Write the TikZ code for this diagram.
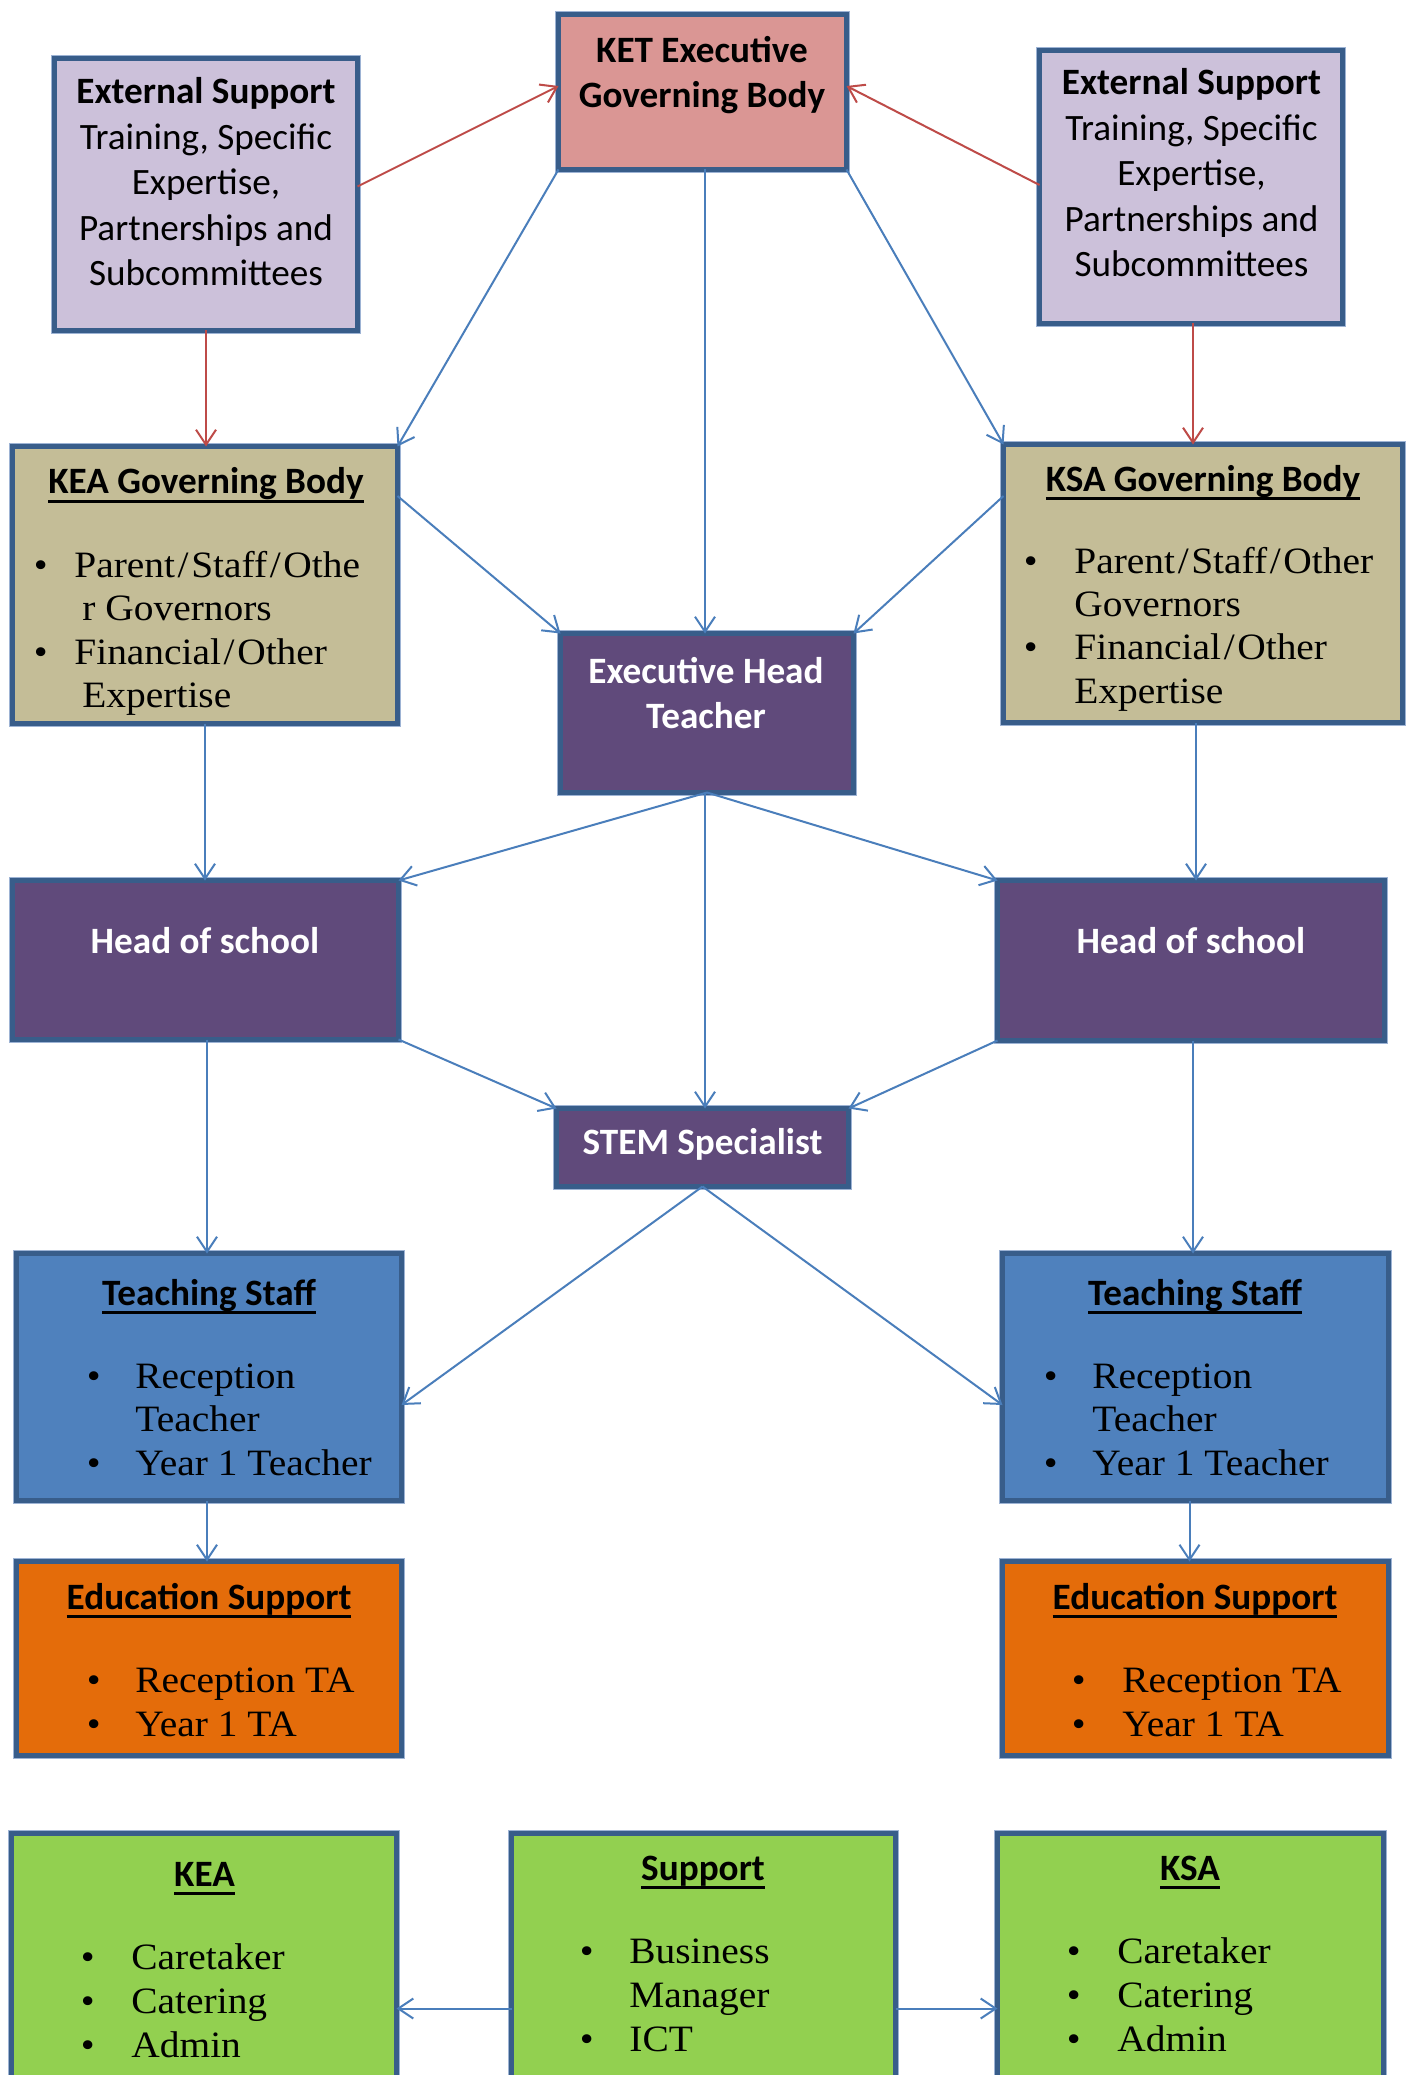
\documentclass[tikz,border=0pt]{standalone}
\usepackage{fontspec}
\usetikzlibrary{arrows.meta,calc}
\newfontfamily\calib{Carlito}
\newfontfamily\camb{Liberation Serif}[FakeStretch=1.06]

\definecolor{bordc}{HTML}{385D8A}
\definecolor{haloc}{HTML}{9DB3D4}
\definecolor{ketc}{HTML}{DA9694}
\definecolor{extc}{HTML}{CCC1DA}
\definecolor{govc}{HTML}{C4BD97}
\definecolor{purc}{HTML}{604A7B}
\definecolor{bluec}{HTML}{4F81BD}
\definecolor{orc}{HTML}{E46C0A}
\definecolor{grc}{HTML}{92D050}
\definecolor{linkb}{HTML}{4A7EBB}
\definecolor{linkr}{HTML}{BE4B48}

% underline at a fixed depth below the baseline
\newcommand\ulin[1]{\sbox0{#1}\rlap{\rule[-4.3pt]{\wd0}{1.4pt}}\usebox0}
% bullet hanging to the left of the item text
\newcommand\bul[1]{\llap{•\hspace{#1}}}
% slightly wider slash
\newcommand\sla{\kern1.3pt/\kern1.3pt}

\tikzset{
  box/.style={rectangle, draw=bordc, line width=2.5pt, inner sep=0pt, outer sep=0pt,
    preaction={draw=haloc, line width=3.4pt}},
  tit/.style={font=\calib\bfseries\fontsize{18.6}{22.7}\selectfont, anchor=base, inner sep=0pt},
  wtit/.style={tit, text=white},
  ctx/.style={font=\calib\fontsize{18.6}{22.7}\selectfont, anchor=base, inner sep=0pt},
  btx/.style={font=\camb\fontsize{18.6}{21.8}\selectfont, anchor=base west, inner sep=0pt},
  link/.style={draw=linkb, line width=1pt, -{Straight Barb[length=7.5pt,width=10pt]}},
  rlink/.style={link, draw=linkr},
}

\begin{document}
\begin{tikzpicture}[x=0.5pt,y=-0.5pt]
\useasboundingbox (0,0) rectangle (1413,2075);
\clip (0,0) rectangle (1413,2075);
\fill[white] (0,0) rectangle (1413,2075);

% ---------- boxes ----------
\node[box, fill=ketc,  minimum width=144pt,   minimum height=77.5pt] (ket)   at (702.5,92) {};
\node[box, fill=extc,  minimum width=151.5pt, minimum height=136pt]  (extl)  at (206,194.5) {};
\node[box, fill=extc,  minimum width=151.5pt, minimum height=136.5pt](extr)  at (1191,187) {};
\node[box, fill=govc,  minimum width=192.5pt, minimum height=138.5pt](keagb) at (205,585) {};
\node[box, fill=govc,  minimum width=199.5pt, minimum height=139pt]  (ksagb) at (1203,583.5) {};
\node[box, fill=purc,  minimum width=146.5pt, minimum height=79.5pt] (exec)  at (707,713) {};
\node[box, fill=purc,  minimum width=193pt,   minimum height=79.5pt] (hosl)  at (205.5,960) {};
\node[box, fill=purc,  minimum width=193.5pt, minimum height=80pt]   (hosr)  at (1191,960.5) {};
\node[box, fill=purc,  minimum width=146pt,   minimum height=39pt]   (stem)  at (702.5,1147.5) {};
\node[box, fill=bluec, minimum width=192.5pt, minimum height=123.5pt](teachl) at (209,1377) {};
\node[box, fill=bluec, minimum width=193pt,   minimum height=123.5pt](teachr) at (1195.5,1377) {};
\node[box, fill=orc,   minimum width=192.5pt, minimum height=97pt]   (edl)   at (209,1658.5) {};
\node[box, fill=orc,   minimum width=193pt,   minimum height=97pt]   (edr)   at (1195.5,1658.5) {};
\node[box, fill=grc,   minimum width=192.5pt, minimum height=142pt]  (gkea)  at (204,1975.5) {};
\node[box, fill=grc,   minimum width=192pt,   minimum height=142pt]  (gsup)  at (703.5,1975.5) {};
\node[box, fill=grc,   minimum width=193pt,   minimum height=142pt]  (gksa)  at (1190.5,1975.5) {};

% ---------- texts ----------
\node[tit] (ket1) at (702,63)  {KET Executive};
\node[tit] (ket2) at (702,108) {Governing Body};

\node[tit] (extl1) at (206,104)   {External Support};
\node[ctx] (extl2) at (206,149.5) {Training, Specific};
\node[ctx] (extl3) at (206,195)   {Expertise,};
\node[ctx] (extl4) at (206,240.5) {Partnerships and};
\node[ctx] (extl5) at (206,286)   {Subcommittees};

\node[tit] (extr1) at (1191.5,95)    {External Support};
\node[ctx] (extr2) at (1191.5,140.5) {Training, Specific};
\node[ctx] (extr3) at (1191.5,186)   {Expertise,};
\node[ctx] (extr4) at (1191.5,231.5) {Partnerships and};
\node[ctx] (extr5) at (1191.5,277)   {Subcommittees};

\node[tit] (keagbt) at (206,494) {\ulin{KEA Governing Body}};
\node[btx] (keagb1) at (74,577) {\bul{13.4pt}Parent\sla Staff\sla Othe};
\node[btx] (keagb2) at (82,620) {r Governors};
\node[btx] (keagb3) at (74,664) {\bul{13.4pt}Financial\sla Other};
\node[btx] (keagb4) at (82,707) {Expertise};

\node[tit] (ksagbt) at (1203,491) {\ulin{KSA Governing Body}};
\node[btx] (ksagb1) at (1074,573)   {\bul{18.4pt}Parent\sla Staff\sla Other};
\node[btx] (ksagb2) at (1074,616.3) {Governors};
\node[btx] (ksagb3) at (1074,659.6) {\bul{18.4pt}Financial\sla Other};
\node[btx] (ksagb4) at (1074,703)   {Expertise};

\node[wtit] (exec1) at (706,683)   {Executive Head};
\node[wtit] (exec2) at (706,728.5) {Teacher};

\node[wtit] (hosl1) at (205,953)  {Head of school};
\node[wtit] (hosr1) at (1191,953) {Head of school};
\node[wtit] (stem1) at (702.5,1154) {STEM Specialist};

\node[tit] (teachlt) at (209,1305) {\ulin{Teaching Staff}};
\node[btx] (teachl1) at (135,1388)   {\bul{17.4pt}Reception};
\node[btx] (teachl2) at (135,1431.5) {Teacher};
\node[btx] (teachl3) at (135,1475)   {\bul{17.4pt}Year 1 Teacher};

\node[tit] (teachrt) at (1195,1305) {\ulin{Teaching Staff}};
\node[btx] (teachr1) at (1092,1388)   {\bul{17.4pt}Reception};
\node[btx] (teachr2) at (1092,1431.5) {Teacher};
\node[btx] (teachr3) at (1092,1475)   {\bul{17.4pt}Year 1 Teacher};

\node[tit] (edlt) at (209,1609) {\ulin{Education Support}};
\node[btx] (edl1) at (135,1692) {\bul{17.4pt}Reception TA};
\node[btx] (edl2) at (135,1736) {\bul{17.4pt}Year 1 TA};

\node[tit] (edrt) at (1195,1609) {\ulin{Education Support}};
\node[btx] (edr1) at (1122,1692) {\bul{18.4pt}Reception TA};
\node[btx] (edr2) at (1122,1736) {\bul{18.4pt}Year 1 TA};

\node[tit] (gkeat) at (204.5,1886) {\ulin{KEA}};
\node[btx] (gkea1) at (131,1969) {\bul{18.4pt}Caretaker};
\node[btx] (gkea2) at (131,2013) {\bul{18.4pt}Catering};
\node[btx] (gkea3) at (131,2057) {\bul{18.4pt}Admin};

\node[tit] (gsupt) at (703,1880) {\ulin{Support}};
\node[btx] (gsup1) at (629,1963) {\bul{17.9pt}Business};
\node[btx] (gsup2) at (629,2007) {Manager};
\node[btx] (gsup3) at (629,2051) {\bul{17.9pt}ICT};

\node[tit] (gksat) at (1190,1880) {\ulin{KSA}};
\node[btx] (gksa1) at (1117,1963) {\bul{18.4pt}Caretaker};
\node[btx] (gksa2) at (1117,2007) {\bul{18.4pt}Catering};
\node[btx] (gksa3) at (1117,2051) {\bul{18.4pt}Admin};

% ---------- connectors ----------
\draw[rlink] ($(extl.east)+(0,-8)$) -- ($(ket.west)+(0,-6)$);
\draw[rlink] ($(extr.west)+(0,-2)$) -- ($(ket.east)+(0,-6)$);
\draw[rlink] (extl.south) -- (extl.south |- keagb.north);
\draw[rlink] ($(extr.south)+(2,0)$) -- ($(extr.south |- ksagb.north)+(2,0)$);

\draw[link] (ket.south west) -- (keagb.north east);
\draw[link] (ket.south east) -- (ksagb.north west);
\draw[link] ($(ket.south)+(2.5,0)$) -- ($(ket.south |- exec.north)+(2.5,0)$);
\draw[link] ($(keagb.east)+(0,-89)$) -- (exec.north west);
\draw[link] ($(ksagb.west)+(0,-87.5)$) -- (exec.north east);

\draw[link] (keagb.south) -- (keagb.south |- hosl.north);
\draw[link] ($(hosr.north |- ksagb.south)+(5,0)$) -- ($(hosr.north)+(5,0)$);
\draw[link] (exec.south) -- (hosl.north east);
\draw[link] (exec.south) -- (hosr.north west);
\draw[link] ($(exec.south)+(-2,0)$) -- ($(exec.south |- stem.north)+(-2,0)$);

\draw[link] (hosl.south east) -- (stem.north west);
\draw[link] (hosr.south west) -- (stem.north east);
\draw[link] ($(hosl.south)+(1.5,0)$) -- ($(hosl.south |- teachl.north)+(1.5,0)$);
\draw[link] ($(hosr.south)+(2,0)$) -- ($(hosr.south |- teachr.north)+(2,0)$);

\draw[link] (stem.south) -- ($(teachl.east)+(0,28)$);
\draw[link] (stem.south) -- ($(teachr.west)+(0,28)$);
\draw[link] ($(teachl.south)+(-2,0)$) -- ($(teachl.south |- edl.north)+(-2,0)$);
\draw[link] ($(teachr.south)+(-6,0)$) -- ($(teachr.south |- edr.north)+(-6,0)$);

\draw[link] ($(gsup.west)+(0,33)$) -- ($(gkea.east)+(0,33)$);
\draw[link] ($(gsup.east)+(0,33)$) -- ($(gksa.west)+(0,33)$);
\end{tikzpicture}
\end{document}
